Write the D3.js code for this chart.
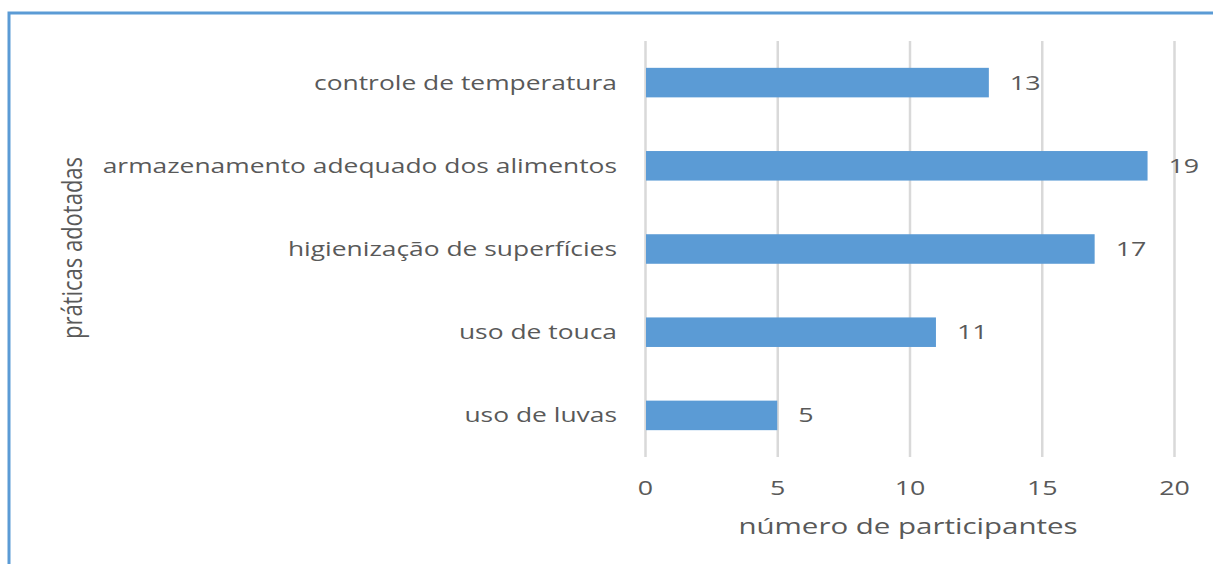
<!DOCTYPE html>
<html>
<head>
<meta charset="utf-8">
<script src="https://cdn.jsdelivr.net/npm/d3@7"></script>
<style>
  html, body { margin: 0; padding: 0; background: #fff; }
  svg { display: block; }
  text { font-family: "Open Sans", sans-serif; fill: #595959; }
</style>
</head>
<body>
<div id="chart"></div>
<script>
// chart data
var categories = ['controle de temperatura', 'armazenamento adequado dos alimentos',
                  'higienização de superfícies', 'uso de touca', 'uso de luvas'];
var participantes = [13, 19, 17, 11, 5];
var xTicks = [0, 5, 10, 15, 20];
var yTitle = 'práticas adotadas';
var xTitle = 'número de participantes';

var W = 1213, H = 564;
var SX = 1.34;  // the source picture is stretched sideways
var SXcat = 1.32;

var svg = d3.select('#chart').append('svg').attr('width', W).attr('height', H);

// outer frame (right / bottom run off the picture)
svg.append('rect')
  .attr('x', 9).attr('y', 13).attr('width', W + 20).attr('height', H + 20)
  .attr('fill', 'none').attr('stroke', '#5b9bd5').attr('stroke-width', 3);

var x = d3.scaleLinear().domain([0, 20]).range([645, 1174]);
var y = d3.scaleBand().domain(categories).range([41, 457])
  .paddingInner(0.645).paddingOuter(0.3225);

// gridlines + tick labels
var xAxis = svg.append('g').attr('transform', 'translate(0,457)')
  .call(d3.axisBottom(x).tickValues(xTicks).tickSize(-(457 - 41)).tickPadding(0));
xAxis.select('.domain').remove();
xAxis.selectAll('.tick line').attr('stroke', '#d9d9d9').attr('stroke-width', 2.5);
xAxis.selectAll('.tick text')
  .attr('y', 0).attr('dy', null)
  .attr('transform', 'translate(0,38) scale(' + SX + ',1)')
  .style('font-size', '20px').style('fill', '#595959');

// bars
svg.append('g').selectAll('rect')
  .data(participantes)
  .enter().append('rect')
    .attr('x', x(0) + 1)
    .attr('y', function(d, i) { return y(categories[i]); })
    .attr('width', function(d) { return x(d) - x(0) - 1; })
    .attr('height', y.bandwidth())
    .attr('fill', '#5b9bd5');

// value labels
svg.append('g').selectAll('text')
  .data(participantes)
  .enter().append('text')
    .attr('transform', function(d, i) {
      return 'translate(' + (x(d) + 21) + ',' + (y(categories[i]) + y.bandwidth() / 2 + 7) + ') scale(' + SX + ',1)';
    })
    .style('font-size', '20px')
    .text(function(d) { return d; });

// category labels
var yAxis = svg.append('g').attr('transform', 'translate(645,0)')
  .call(d3.axisLeft(y).tickSize(0));
yAxis.select('.domain').remove();
yAxis.selectAll('.tick text')
  .attr('x', 0).attr('dy', null)
  .attr('transform', 'translate(-28,7) scale(' + SXcat + ',1)')
  .style('font-size', '20px').style('fill', '#595959');

// axis titles
svg.append('text')
  .attr('transform', 'translate(908,534) scale(' + SX + ',1)')
  .attr('text-anchor', 'middle')
  .style('font-size', '22px')
  .text(xTitle);

svg.append('text')
  .attr('transform', 'translate(82,248) scale(1.25,1) rotate(-90)')
  .attr('text-anchor', 'middle')
  .style('font-size', '22px')
  .text(yTitle);
</script>
</body>
</html>
